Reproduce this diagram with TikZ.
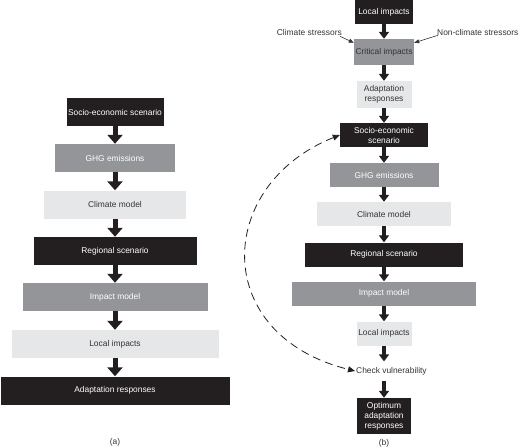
\documentclass[tikz,border=0pt]{standalone}
\usepackage{fontspec}
\setmainfont{Liberation Sans}
\usetikzlibrary{arrows.meta,calc}
\definecolor{cdark}{HTML}{231F20}
\definecolor{cmid}{HTML}{939598}
\definecolor{clight}{HTML}{E6E7E8}
\definecolor{ctext}{HTML}{333333}
\begin{document}
\begin{tikzpicture}[x=1pt,y=-1pt,
  every node/.style={font=\fontsize{8.4}{10}\selectfont, inner sep=0pt},
  box/.style={rectangle, minimum height=28pt, align=center},
  dk/.style={box, fill=cdark, text=white},
  md/.style={box, fill=cmid, text=white},
  lt/.style={box, fill=clight, text=ctext},
  txt/.style={text=ctext},
  barrowL/.style={line width=5pt, cdark, -{Triangle[width=15pt,length=9pt]}},
  barrowR/.style={line width=4pt, cdark, -{Triangle[width=10pt,length=7pt]}},
  thinarrow/.style={line width=0.6pt, ctext, -{Triangle[width=4pt,length=5pt]}},
  dasharrow/.style={line width=0.8pt, cdark, dash pattern=on 8pt off 5pt,
    {Triangle[width=6pt,length=7pt]}-{Triangle[width=6pt,length=7pt]}}
]
\useasboundingbox (0,0) rectangle (520,447);
% left column (a)
\node[dk, minimum width=97pt]  (ls) at (115,112)   {Socio-economic scenario};
\node[md, minimum width=120pt] (lg) at (115,158)   {GHG emissions};
\node[lt, minimum width=142pt] (lc) at (115,204.5) {Climate model};
\node[dk, minimum width=163pt] (lr) at (115,251)   {Regional scenario};
\node[md, minimum width=185pt] (li) at (115,297)   {Impact model};
\node[lt, minimum width=207pt] (ll) at (115,344)   {Local impacts};
\node[dk, minimum width=229pt] (la) at (115,390.5) {Adaptation responses};
\node[txt] (laba) at (115,442) {(a)};
\foreach \a/\b in {ls/lg,lg/lc,lc/lr,lr/li,li/ll,ll/la}
  \draw[barrowL] (\a.south) -- (\b.north);
% right column (b)
\node[dk, minimum width=58pt, minimum height=24pt] (r1) at (384,12) {Local impacts};
\node[md, text=ctext, minimum width=60pt, minimum height=26pt] (r2) at (384,52) {Critical impacts};
\node[lt, minimum width=55pt, minimum height=27pt] (r3) at (384,94.5) {Adaptation\\responses};
\node[dk, minimum width=88pt, minimum height=24pt] (r4) at (384,135) {Socio-economic\\scenario};
\node[md, minimum width=109pt, minimum height=24pt] (r5) at (384,175) {GHG emissions};
\node[lt, minimum width=134pt, minimum height=24pt] (r6) at (384,214) {Climate model};
\node[dk, minimum width=158pt, minimum height=24pt] (r7) at (384,254.5) {Regional scenario};
\node[md, minimum width=184pt, minimum height=24pt] (r8) at (384,293.5) {Impact model};
\node[lt, minimum width=55pt, minimum height=24pt] (r9) at (384,333.5) {Local impacts};
\node[txt, anchor=west, inner xsep=1pt, inner ysep=5.5pt] (r10) at (355,371) {Check vulnerability};
\node[dk, minimum width=54pt, minimum height=36pt] (r11) at (384,416) {Optimum\\adaptation\\responses};
\node[txt] (labb) at (384,443) {(b)};
\foreach \a/\b in {r1/r2,r2/r3,r3/r4,r4/r5,r5/r6,r6/r7,r7/r8,r8/r9}
  \draw[barrowR] (\a.south) -- (\b.north);
\draw[barrowR] (r9.south) -- (r9.south |- r10.north);
\draw[barrowR] (r9.south |- r10.south) -- (r11.north);
% stressors
\node[txt, anchor=east] (cs) at (342,32) {Climate stressors};
\node[txt, anchor=west] (ncs) at (437,32) {Non-climate stressors};
\draw[thinarrow] ($(cs.south east)+(-2,1)$) -- ($(r2.north west)!0.15!(r2.south west)$);
\draw[thinarrow] ($(ncs.south west)+(1,0)$) -- ($(r2.north east)!0.15!(r2.south east)$);
% dashed feedback
\draw[dasharrow] (r4.west) .. controls (215,185) and (210,335) .. (r10.west);
\end{tikzpicture}
\end{document}
